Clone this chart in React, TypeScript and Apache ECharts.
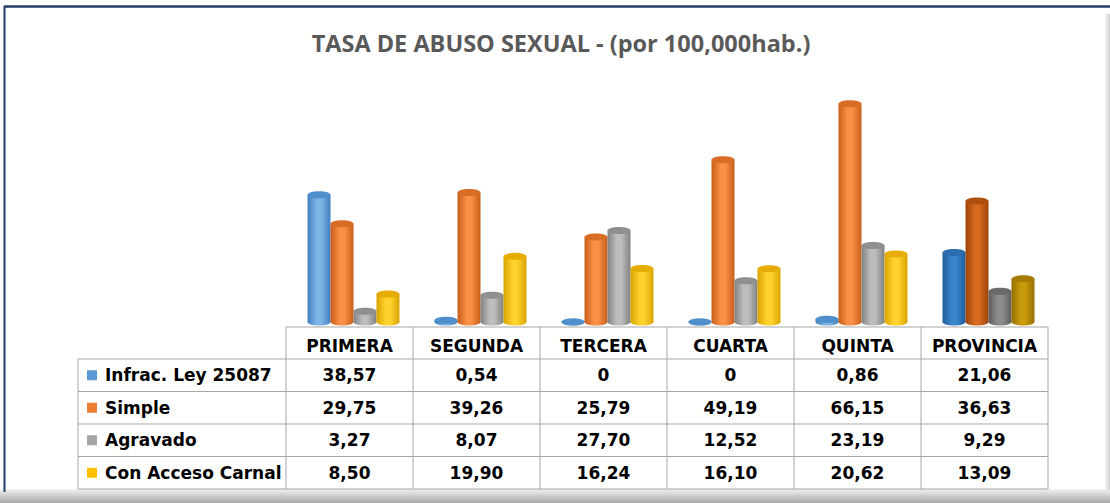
import React, { useEffect, useRef } from "react";
import * as echarts from "echarts";

const titleText = "TASA DE ABUSO SEXUAL - (por 100,000hab.)";
const categories = ["PRIMERA", "SEGUNDA", "TERCERA", "CUARTA", "QUINTA", "PROVINCIA"];
const seriesNames = ["Infrac. Ley 25087", "Simple", "Agravado", "Con Acceso Carnal"];
const infracLey = [38.57, 0.54, 0, 0, 0.86, 21.06];
const simple = [29.75, 39.26, 25.79, 49.19, 66.15, 36.63];
const agravado = [3.27, 8.07, 27.7, 12.52, 23.19, 9.29];
const conAcceso = [8.5, 19.9, 16.24, 16.1, 20.62, 13.09];
const seriesValues = [infracLey, simple, agravado, conAcceso];

// palette: [dark edge, highlight, top cap]
const palette = [
  ["#3f7fbf", "#7db4e6", "#4e8fcc"],
  ["#c75e1a", "#fb8f45", "#d96d26"],
  ["#828282", "#bdbdbd", "#8f8f8f"],
  ["#d9a300", "#ffd22e", "#e6ad00"],
];
const paletteTotal = [
  ["#1f5c99", "#3a86cc", "#2a6cae"],
  ["#9c4308", "#d8691f", "#b0500f"],
  ["#5c5c5c", "#8c8c8c", "#6a6a6a"],
  ["#967000", "#c99a0a", "#a67c00"],
];
const legendColors = ["#5b9bd5", "#ed7d31", "#a5a5a5", "#ffc000"];

const FONT = "DejaVu Sans";
const GRID_LEFT = 286;
const COL_W = 127;
const BASE_Y = 322;
const Y_MAX = 70;
const PX_PER_UNIT = 3.3;
const TABLE_LEFT = 78;
const HEADER_TOP = 327;
const ROW_TOPS = [359, 391.5, 424, 456.5, 489];

function fmt(v: number) {
  return v === 0 ? "0" : v.toFixed(2).replace(".", ",");
}

export default function App() {
  const ref = useRef<HTMLDivElement>(null);
  useEffect(() => {
    document.body.style.margin = "0";
    if (!ref.current) return;
    const chart = echarts.init(ref.current, null, { renderer: "svg" });
    const tableRight = GRID_LEFT + COL_W * categories.length;
    const lineStyle = { stroke: "#a6a6a6", lineWidth: 1 };
    const graphics: any[] = [];

    // frame
    graphics.push({ type: "rect", shape: { x: 0, y: 0, width: 1110, height: 503 }, style: { fill: "#ffffff" }, z: -10 });
    graphics.push({
      type: "rect",
      shape: { x: 0, y: 489, width: 1110, height: 14 },
      style: {
        fill: new echarts.graphic.LinearGradient(0, 0, 0, 1, [
          { offset: 0, color: "#f2f2f2" },
          { offset: 0.4, color: "#d4d4d4" },
          { offset: 1, color: "#a9a9a9" },
        ]),
      },
      z: -5,
    });
    graphics.push({
      type: "rect",
      shape: { x: 1105, y: 14, width: 5, height: 476 },
      style: {
        fill: new echarts.graphic.LinearGradient(0, 0, 1, 0, [
          { offset: 0, color: "#f4f4f4" },
          { offset: 1, color: "#d0d0d0" },
        ]),
      },
      z: -5,
    });
    graphics.push({ type: "line", shape: { x1: 4, y1: 6.5, x2: 1110, y2: 6.5 }, style: { stroke: "#253c6a", lineWidth: 2.5 } });
    graphics.push({ type: "line", shape: { x1: 4.5, y1: 6, x2: 4.5, y2: 492 }, style: { stroke: "#253c6a", lineWidth: 2 } });

    // title
    graphics.push({
      type: "text",
      x: 561,
      y: 43,
      style: {
        text: titleText,
        fill: "#595959",
        font: `bold 23.5px "Open Sans"`,
        textAlign: "center",
        textVerticalAlign: "middle",
      },
    });

    // table lines
    graphics.push({ type: "line", shape: { x1: GRID_LEFT, y1: HEADER_TOP, x2: tableRight, y2: HEADER_TOP }, style: lineStyle });
    ROW_TOPS.forEach((y) => {
      graphics.push({ type: "line", shape: { x1: TABLE_LEFT, y1: y, x2: tableRight, y2: y }, style: lineStyle });
    });
    graphics.push({ type: "line", shape: { x1: TABLE_LEFT, y1: ROW_TOPS[0], x2: TABLE_LEFT, y2: ROW_TOPS[ROW_TOPS.length - 1] }, style: lineStyle });
    for (let i = 0; i <= categories.length; i++) {
      const x = GRID_LEFT + i * COL_W;
      graphics.push({ type: "line", shape: { x1: x, y1: HEADER_TOP, x2: x, y2: ROW_TOPS[ROW_TOPS.length - 1] }, style: lineStyle });
    }

    // row labels and values
    seriesNames.forEach((name, r) => {
      const cy = (ROW_TOPS[r] + ROW_TOPS[r + 1]) / 2;
      graphics.push({ type: "rect", shape: { x: 87, y: cy - 5, width: 10, height: 10 }, style: { fill: legendColors[r] } });
      graphics.push({
        type: "text",
        x: 105,
        y: cy,
        style: { text: name, fill: "#000", font: `bold 17px "${FONT}"`, textAlign: "left", textVerticalAlign: "middle" },
      });
      seriesValues[r].forEach((v, c) => {
        graphics.push({
          type: "text",
          x: GRID_LEFT + c * COL_W + COL_W / 2,
          y: cy,
          style: { text: fmt(v), fill: "#000", font: `bold 17px "${FONT}"`, textAlign: "center", textVerticalAlign: "middle" },
        });
      });
    });

    const series = seriesValues.map((vals, si) => ({
      type: "custom",
      name: seriesNames[si],
      data: vals.map((v, i) => [i, v]),
      renderItem: (params: any, api: any) => {
        const ci = api.value(0);
        const v = api.value(1);
        const base = api.coord([ci, 0]);
        const top = api.coord([ci, v]);
        const band = api.size([1, 0])[0];
        const bw = band * 0.181;
        const cx = base[0] + (si - 1.5) * bw + 4;
        const x0 = cx - bw / 2;
        const ry = 3.5;
        const pal = ci === categories.length - 1 ? paletteTotal[si] : palette[si];
        const grad = new echarts.graphic.LinearGradient(0, 0, 1, 0, [
          { offset: 0, color: pal[0] },
          { offset: 0.4, color: pal[1] },
          { offset: 0.6, color: pal[1] },
          { offset: 1, color: pal[0] },
        ]);
        const children: any[] = [
          { type: "ellipse", shape: { cx, cy: base[1], rx: bw / 2, ry }, style: { fill: grad } },
        ];
        if (base[1] - top[1] > 0.5) {
          children.push({ type: "rect", shape: { x: x0, y: top[1], width: bw, height: base[1] - top[1] }, style: { fill: grad } });
        }
        children.push({ type: "ellipse", shape: { cx, cy: top[1], rx: bw / 2, ry }, style: { fill: pal[2] } });
        return { type: "group", children };
      },
    }));

    chart.setOption({
      animation: false,
      grid: { left: GRID_LEFT, right: 1110 - GRID_LEFT - COL_W * categories.length, top: BASE_Y - Y_MAX * PX_PER_UNIT, bottom: 503 - BASE_Y },
      xAxis: {
        type: "category",
        data: categories,
        axisLine: { show: false },
        axisTick: { show: false },
        axisLabel: { interval: 0, margin: 15, color: "#000", fontFamily: FONT, fontWeight: "bold", fontSize: 17 },
      },
      yAxis: { type: "value", min: 0, max: Y_MAX, show: false, splitLine: { show: false } },
      series,
      graphic: graphics,
    });
    return () => chart.dispose();
  }, []);
  return <div ref={ref} style={{ width: 1110, height: 503 }} />;
}
